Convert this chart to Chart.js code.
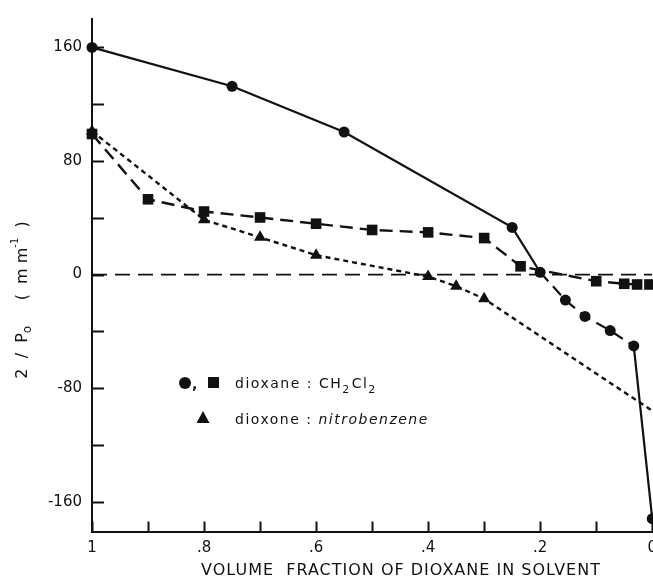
<!DOCTYPE html>
<html>
<head>
<meta charset="utf-8">
<script src="https://cdn.jsdelivr.net/npm/chart.js@4.4.1/dist/chart.umd.min.js"></script>
<style>
  html, body { margin: 0; padding: 0; background: #fff; overflow: hidden; }
  #wrap { width: 653px; height: 582px; overflow: hidden; }
  canvas { display: block; }
</style>
</head>
<body>
<div id="wrap"><canvas id="chart" width="665" height="582"></canvas></div>
<script>
// volume fraction of dioxane (x) against 2/P0 in mm^-1 (y)
const circleX = [1, 0.75, 0.55, 0.25, 0.2, 0.155, 0.12, 0.075, 0.033, 0];
const circleY = [160, 132.6, 100.4, 33.2, 1.6, -18, -29.5, -39.5, -50.3, -172];

const squareX = [1, 0.9, 0.8, 0.7, 0.6, 0.5, 0.4, 0.3, 0.235, 0.1, 0.05, 0.027, 0.005];
const squareY = [99, 53, 44.4, 40.2, 35.8, 31.4, 29.7, 25.7, 5.8, -4.7, -6.5, -7, -7];

const triangleX = [1, 0.8, 0.7, 0.6, 0.4, 0.35, 0.3, 0];
const triangleY = [101, 38.6, 26.2, 13.6, -1.4, -8.2, -17.1, -96];

const zeroX = [1, 0];
const zeroY = [0, 0];

const xTicks = [1, 0.9, 0.8, 0.7, 0.6, 0.5, 0.4, 0.3, 0.2, 0.1, 0];
const xLabelled = [1, 0.8, 0.6, 0.4, 0.2, 0];
const yTicks = [160, 120, 80, 40, 0, -40, -80, -120, -160];
const yLabelled = [160, 80, 0, -80, -160];

const ink = '#111';
const fontFamily = "'DejaVu Sans', sans-serif";

function pts(xs, ys) {
    return xs.map((x, i) => ({ x: x, y: ys[i] }));
}

function xLabel(v) {
    if (!xLabelled.includes(v)) return '';
    if (v === 1) return '1';
    if (v === 0) return '0';
    return String(v).replace('0.', '.');
}

// short inward tick marks on both axes
const innerTicks = {
    id: 'innerTicks',
    afterDraw(chart) {
        const ctx = chart.ctx;
        const xs = chart.scales.x, ys = chart.scales.y;
        const area = chart.chartArea;
        ctx.save();
        ctx.strokeStyle = ink;
        ctx.lineWidth = 2;
        ctx.beginPath();
        xTicks.forEach(v => {
            const px = Math.round(xs.getPixelForValue(v)) + 0.5;
            ctx.moveTo(px, area.bottom);
            ctx.lineTo(px, area.bottom - 10);
        });
        yTicks.forEach(v => {
            const py = Math.round(ys.getPixelForValue(v)) + 0.5;
            ctx.moveTo(area.left, py);
            ctx.lineTo(area.left + 12, py);
        });
        ctx.stroke();
        ctx.restore();
    }
};

// axis titles and the key
const annotations = {
    id: 'annotations',
    afterDraw(chart) {
        const ctx = chart.ctx;
        ctx.save();
        ctx.fillStyle = ink;
        ctx.textBaseline = 'alphabetic';

        // x title
        ctx.font = '16px ' + fontFamily;
        ctx.letterSpacing = '1px';
        ctx.textAlign = 'center';
        ctx.fillText('VOLUME  FRACTION OF DIOXANE IN SOLVENT', 401, 575);
        ctx.letterSpacing = '0px';

        // y title, rotated, with sub/superscripts
        ctx.save();
        ctx.translate(27, 300);
        ctx.rotate(-Math.PI / 2);
        ctx.textAlign = 'left';
        const parts = [
            ['2  /  P', 16, 0],
            ['o', 12, 4],
            ['     (  m m', 16, 0],
            ['-1', 10, -9],
            ['  )', 16, 0]
        ];
        let total = 0;
        parts.forEach(p => { ctx.font = p[1] + 'px ' + fontFamily; total += ctx.measureText(p[0]).width; });
        let cx = -total / 2;
        parts.forEach(p => {
            ctx.font = p[1] + 'px ' + fontFamily;
            ctx.fillText(p[0], cx, p[2]);
            cx += ctx.measureText(p[0]).width;
        });
        ctx.restore();

        // key
        ctx.beginPath();
        ctx.arc(185, 383, 6, 0, Math.PI * 2);
        ctx.fill();
        ctx.font = 'bold 14px ' + fontFamily;
        ctx.textAlign = 'left';
        ctx.fillText(',', 192, 389);
        ctx.fillRect(208, 377, 11, 11);

        ctx.letterSpacing = '1.5px';
        ctx.font = '14px ' + fontFamily;
        let tx = 235;
        ctx.fillText('dioxane : CH', tx, 388);
        tx += ctx.measureText('dioxane : CH').width;
        ctx.font = '11px ' + fontFamily;
        ctx.fillText('2', tx, 393);
        tx += ctx.measureText('2').width + 1;
        ctx.font = '14px ' + fontFamily;
        ctx.fillText('Cl', tx, 388);
        tx += ctx.measureText('Cl').width;
        ctx.font = '11px ' + fontFamily;
        ctx.fillText('2', tx, 393);

        ctx.beginPath();
        ctx.moveTo(203, 411);
        ctx.lineTo(209.5, 423);
        ctx.lineTo(196.5, 423);
        ctx.closePath();
        ctx.fill();

        tx = 235;
        ctx.font = '14px ' + fontFamily;
        ctx.fillText('dioxone : ', tx, 424);
        tx += ctx.measureText('dioxone : ').width;
        ctx.font = 'italic 14px ' + fontFamily;
        ctx.fillText('nitrobenzene', tx, 424);
        ctx.restore();
    }
};

const dashedCircleRun = ctx => (ctx.p0DataIndex >= 4 && ctx.p0DataIndex <= 7) ? [12, 7] : [];

new Chart(document.getElementById('chart'), {
    type: 'line',
    data: {
        datasets: [
            {
                label: 'dioxane : CH2Cl2 (circles)',
                data: pts(circleX, circleY),
                borderColor: ink,
                backgroundColor: ink,
                borderWidth: 2.2,
                pointStyle: 'circle',
                pointRadius: 5.5,
                pointBorderWidth: 0,
                tension: 0,
                clip: false,
                segment: { borderDash: dashedCircleRun }
            },
            {
                label: 'dioxane : CH2Cl2 (squares)',
                data: pts(squareX, squareY),
                borderColor: ink,
                backgroundColor: ink,
                borderWidth: 2.4,
                borderDash: [13, 7],
                pointStyle: 'rect',
                pointRadius: 7.5,
                pointBorderWidth: 0,
                tension: 0,
                clip: false
            },
            {
                label: 'dioxone : nitrobenzene',
                data: pts(triangleX, triangleY),
                borderColor: ink,
                backgroundColor: ink,
                borderWidth: 2.4,
                borderDash: [5, 4],
                pointStyle: 'triangle',
                // the end point at x = 0 carries no marker
                pointRadius: triangleX.map(x => x === 0 ? 0 : 7),
                pointBorderWidth: 0,
                tension: 0,
                clip: false
            },
            {
                label: 'zero',
                data: pts(zeroX, zeroY),
                borderColor: ink,
                borderWidth: 1.8,
                borderDash: [15, 8],
                pointRadius: 0,
                tension: 0
            }
        ]
    },
    options: {
        responsive: false,
        animation: false,
        layout: { padding: { top: 18.5, right: 10, left: 0, bottom: 0 } },
        plugins: { legend: { display: false }, tooltip: { enabled: false } },
        scales: {
            x: {
                type: 'linear',
                reverse: true,
                min: 0,
                max: 1,
                grid: { display: false, drawTicks: false },
                border: { display: true, color: ink, width: 2 },
                afterBuildTicks: s => { s.ticks = xTicks.map(v => ({ value: v })); },
                afterFit: s => { s.height = 50.5; },
                ticks: {
                    padding: 8,
                    autoSkip: false,
                    maxRotation: 0,
                    color: ink,
                    font: { family: fontFamily, size: 15 },
                    callback: v => xLabel(v)
                }
            },
            y: {
                type: 'linear',
                min: -181,
                max: 180,
                grid: { display: false, drawTicks: false },
                border: { display: true, color: ink, width: 2 },
                afterBuildTicks: s => { s.ticks = yTicks.map(v => ({ value: v })); },
                afterFit: s => { s.width = 92; },
                ticks: {
                    padding: 10,
                    autoSkip: false,
                    color: ink,
                    font: { family: fontFamily, size: 15 },
                    callback: v => yLabelled.includes(v) ? String(v) : ''
                }
            }
        }
    },
    plugins: [innerTicks, annotations]
});
</script>
</body>
</html>
